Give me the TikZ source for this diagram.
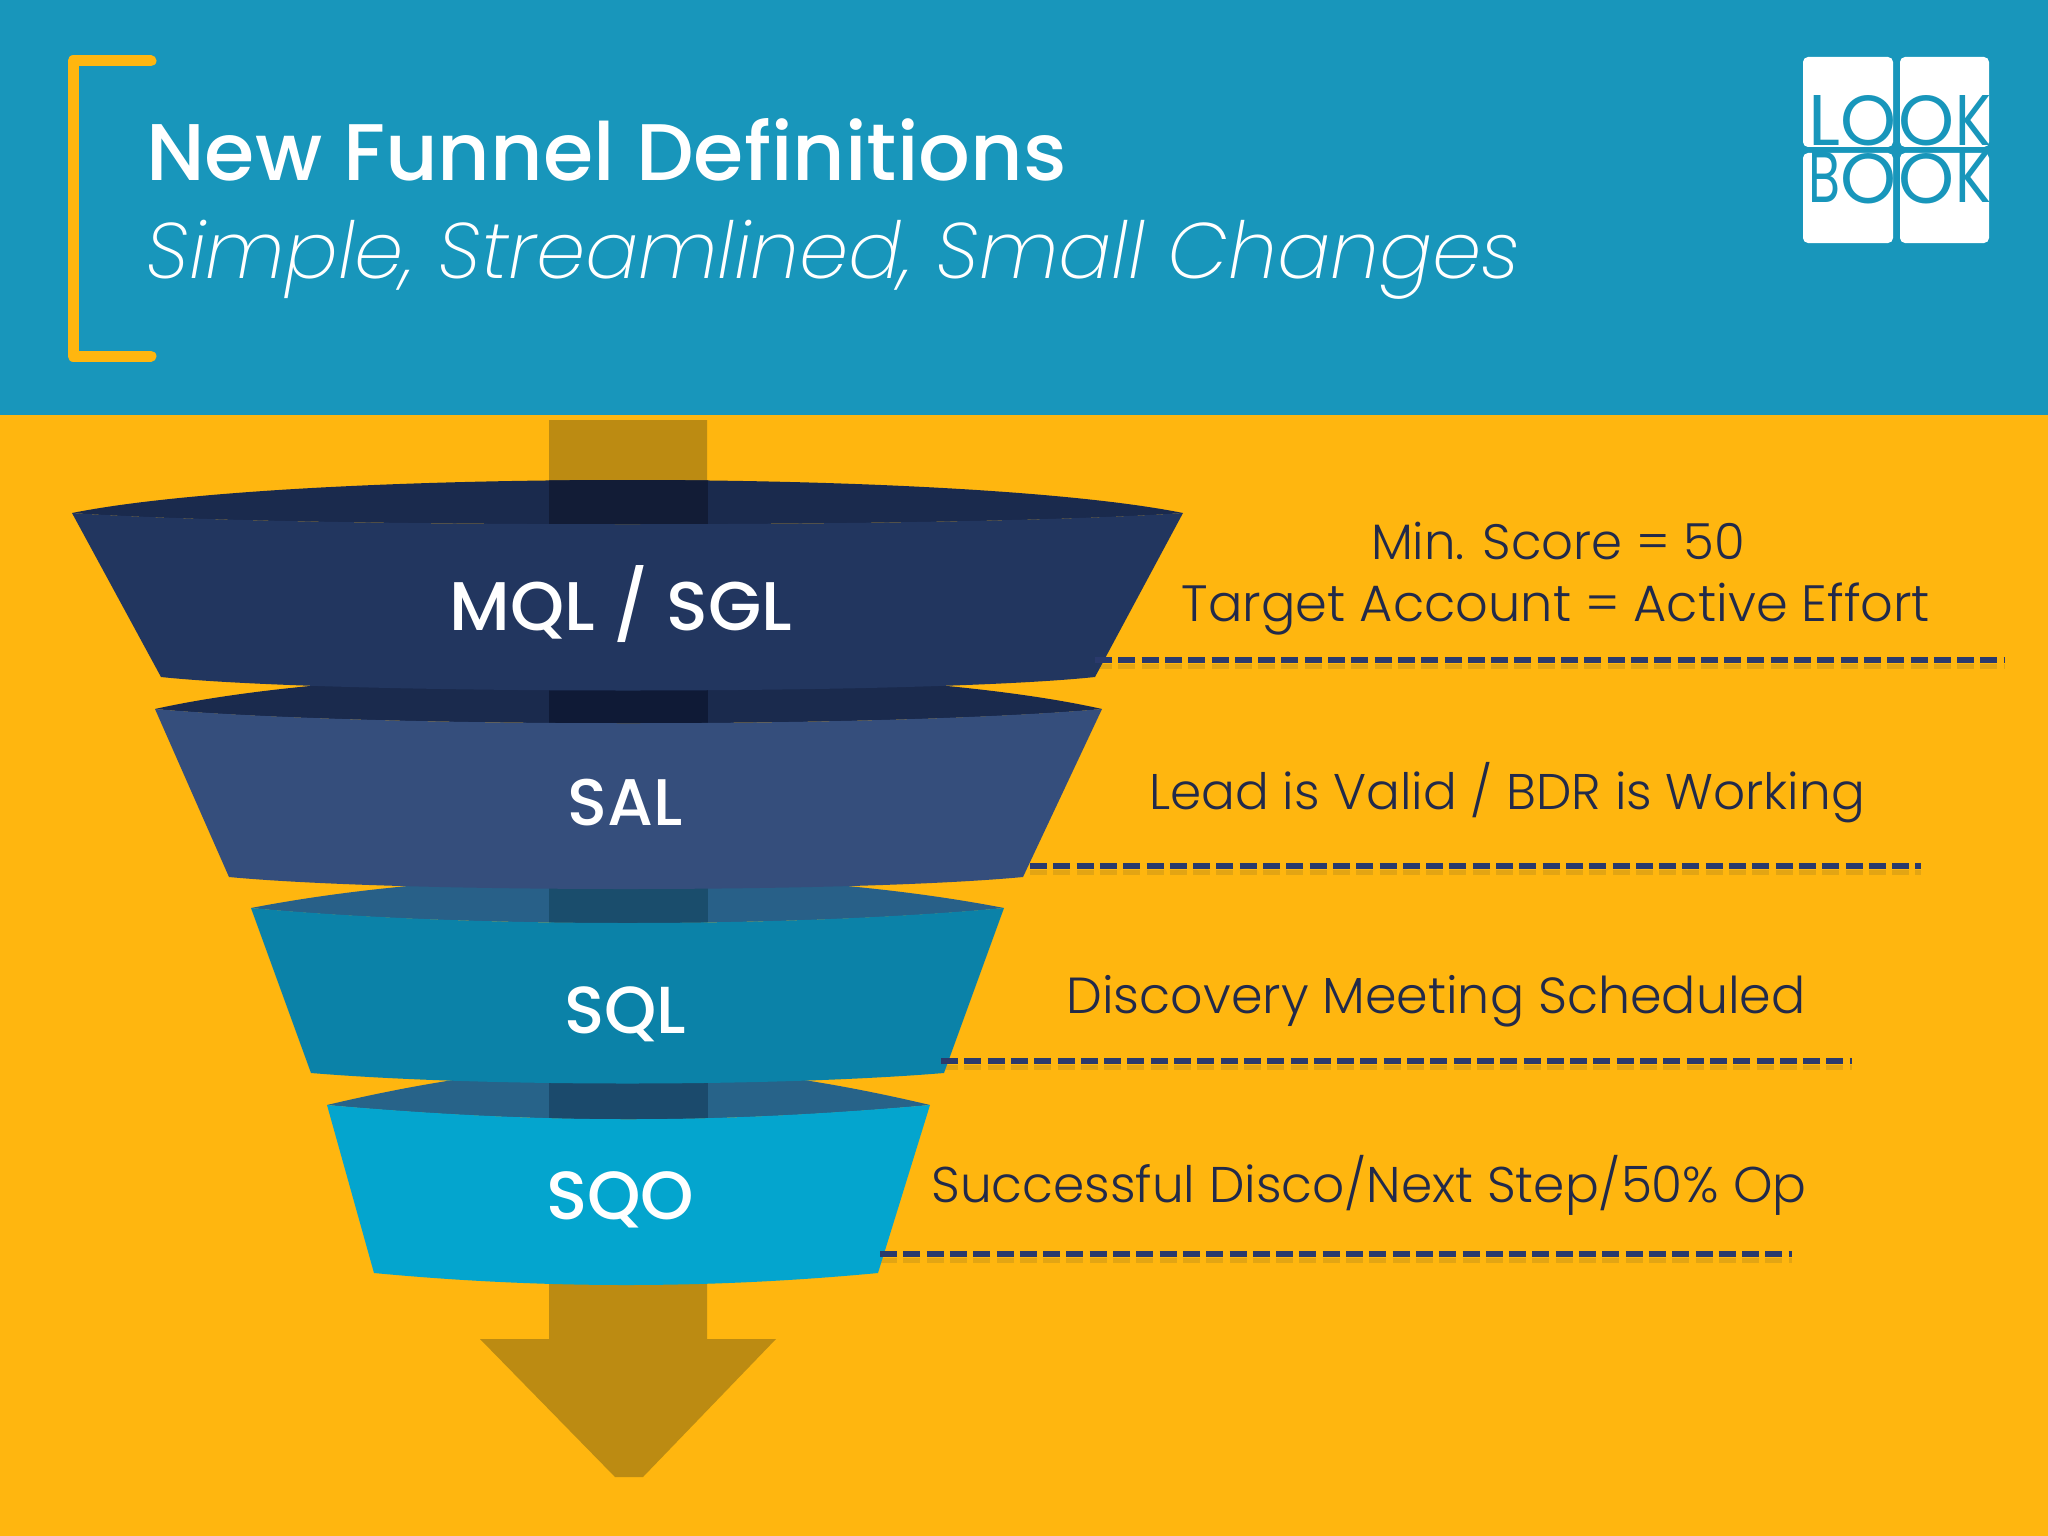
\documentclass[tikz,border=0pt]{standalone}
\usepackage{fontspec}
\usepackage{graphicx}
\setmainfont{Poppins Light}
\newfontfamily\titlefont{Poppins Medium}
\newfontfamily\labelfont{Poppins Medium}
\newfontfamily\logofont{Poppins}
\newfontfamily\subfont{Poppins ExtraLight Italic}
\definecolor{bgy}{HTML}{FFB60F}
\definecolor{headb}{HTML}{1896BB}
\definecolor{arrowc}{HTML}{BC8B12}
\definecolor{fa}{HTML}{22365F}
\definecolor{fab}{HTML}{1A2A4D}
\definecolor{fas}{HTML}{121C36}
\definecolor{fb}{HTML}{354E7C}
\definecolor{fbb}{HTML}{1A2A4D}
\definecolor{fbs}{HTML}{0F1A36}
\definecolor{fc}{HTML}{0B82A8}
\definecolor{fcb}{HTML}{286088}
\definecolor{fcs}{HTML}{1A4D6C}
\definecolor{fd}{HTML}{04A5CE}
\definecolor{fdb}{HTML}{276389}
\definecolor{fds}{HTML}{1B4A6C}
\definecolor{dashc}{HTML}{2A3A6C}
\definecolor{dashsh}{HTML}{E3A513}
\definecolor{textc}{HTML}{222A4A}
\newcommand{\fitw}[2]{\resizebox{#1pt}{!}{#2}}
\newcommand{\fitwh}[3]{\resizebox{#1pt}{#2pt}{#3}}
\tikzset{
  x=1pt,y=-1pt,
  desc/.style={inner sep=0pt,text=textc,font=\fontsize{50}{56}\selectfont,anchor=base},
  funnellabel/.style={inner sep=0pt,text=white,font=\labelfont\fontsize{60}{70}\selectfont,anchor=base},
  dashline/.style={draw=dashc,line width=5.5pt,dash pattern=on 17pt off 6.3pt},
  dashshadow/.style={draw=dashsh,line width=5pt,dash pattern=on 17pt off 6.3pt},
  logoletter/.style={inner sep=0pt,text=headb,font=\logofont\fontsize{72}{72}\selectfont},
  logobox/.style={fill=white,rounded corners=5pt},
}
% #1 TLx #2 TRx #3 top y #4 front mid y #5 back apex y #6 BLx #7 BRx #8 bottom y #9 bottom mid y
\newcommand{\funnelband}[9]{%
  \pgfmathsetmacro{\capy}{#3-(#3-#5)/0.75}%
  \begin{scope}
    \clip (#1,#3) .. controls (#1+220,\capy) and (#2-220,\capy) .. (#2,#3)
       .. controls (#2-200,#4+3) and (#1+200,#4+3) .. (#1,#3) -- cycle;
    \fill[\fbackc] (#1,#5-10) rectangle (#2,#4+10);
    \fill[\fstripc] (549,#5-10) rectangle (708,#4+10);
  \end{scope}
  \fill[\ffrontc] (#1,#3) .. controls (#1+220,#4+3) and (#2-220,#4+3) .. (#2,#3)
     -- (#7,#8) .. controls (#7-170,#9+3) and (#6+170,#9+3) .. (#6,#8) -- cycle;
}
\begin{document}
\begin{tikzpicture}
\useasboundingbox (0,0) rectangle (2048,1536);
\fill[bgy] (0,0) rectangle (2048,1536);
\fill[headb] (0,0) rectangle (2048,415);

% bracket
\draw[bgy,line width=11pt,line cap=round,line join=round] (151,61) -- (73,61) -- (73,356) -- (151,356);

% titles
\node[inner sep=0pt,anchor=base west,text=white] (title) at (146,181)
  {\titlefont\fitwh{920}{62}{New Funnel Definitions}};
\node[inner sep=0pt,anchor=base west,text=white] (subtitle) at (146,278)
  {\subfont\fitw{1374}{Simple, Streamlined, Small Changes}};

% logo
\fill[logobox] (1803,57) rectangle (1893,147);
\fill[logobox] (1900,57) rectangle (1989,147);
\fill[logobox] (1803,153) rectangle (1893,243);
\fill[logobox] (1900,153) rectangle (1989,243);
\node[logoletter,anchor=base west] (l1) at (1808,146) {\fitwh{32}{50}{L}};
\node[logoletter,anchor=base] (l2) at (1868.5,146) {\fitwh{56}{50}{O}};
\node[logoletter,anchor=base] (l3) at (1926.5,146) {\fitwh{56}{50}{O}};
\node[logoletter,anchor=base west] (l4) at (1955,146) {\fitwh{36}{50}{K}};
\node[logoletter,anchor=base west] (b1) at (1808,203) {\fitwh{32}{50}{B}};
\node[logoletter,anchor=base] (b2) at (1868.5,204) {\fitwh{56}{50}{O}};
\node[logoletter,anchor=base] (b3) at (1926.5,204) {\fitwh{56}{50}{O}};
\node[logoletter,anchor=base west] (b4) at (1955,203) {\fitwh{36}{50}{K}};

% dashed rule shadows, under the funnel
\coordinate (d1a) at (1095,660); \coordinate (d1b) at (2004,660);
\coordinate (d2a) at (1030,866); \coordinate (d2b) at (1921,866);
\coordinate (d3a) at (941,1061); \coordinate (d3b) at (1852,1061);
\coordinate (d4a) at (880,1254); \coordinate (d4b) at (1792,1254);
\draw[dashshadow] ([yshift=-6pt]d1a) -- ([yshift=-6pt]d1b);
\draw[dashshadow] ([yshift=-6pt]d2a) -- ([yshift=-6pt]d2b);
\draw[dashshadow] ([yshift=-6pt]d3a) -- ([yshift=-6pt]d3b);
\draw[dashshadow] ([yshift=-6pt]d4a) -- ([yshift=-6pt]d4b);

% arrow
\fill[arrowc] (549,420) -- (707,420) -- (707,1339) -- (776,1339) -- (643,1477) -- (615,1477) -- (480,1339) -- (549,1339) -- cycle;

% funnel bands, bottom to top
\def\fbackc{fdb}\def\fstripc{fds}\def\ffrontc{fd}
\funnelband{327}{930}{1105}{1121}{1066}{374}{878}{1273}{1286}
\def\fbackc{fcb}\def\fstripc{fcs}\def\ffrontc{fc}
\funnelband{251}{1004}{908}{925}{876}{311}{944}{1073}{1084}
\def\fbackc{fbb}\def\fstripc{fbs}\def\ffrontc{fb}
\funnelband{155}{1102}{709}{725}{672}{229}{1023}{877}{890}
\def\fbackc{fab}\def\fstripc{fas}\def\ffrontc{fa}
\funnelband{72}{1183}{513}{525}{480}{161}{1095}{677}{692}

% funnel labels
\node[funnellabel] (mql) at (621,630) {\fitw{342}{MQL / SGL}};
\node[funnellabel] (sal) at (625,825) {\fitw{115}{SAL}};
\node[funnellabel] (sql) at (625,1033) {\fitw{122}{SQL}};
\node[funnellabel] (sqo) at (620,1219) {\fitw{148}{SQO}};

% dashed rules
\draw[dashline] (d1a) -- (d1b);
\draw[dashline] (d2a) -- (d2b);
\draw[dashline] (d3a) -- (d3b);
\draw[dashline] (d4a) -- (d4b);

% descriptions
\node[desc] (t1) at (1558,559) {\fitw{374}{Min. Score = 50}};
\node[desc] (t2) at (1556,621) {\fitw{748}{Target Account = Active Effort}};
\node[desc] (t3) at (1507,809) {\fitw{716}{Lead is Valid / BDR is Working}};
\node[desc] (t4) at (1436,1013) {\fitw{739}{Discovery Meeting Scheduled}};
\node[desc] (t5) at (1369,1202) {\fitw{875}{Successful Disco/Next Step/50\% Op}};
\end{tikzpicture}
\end{document}
